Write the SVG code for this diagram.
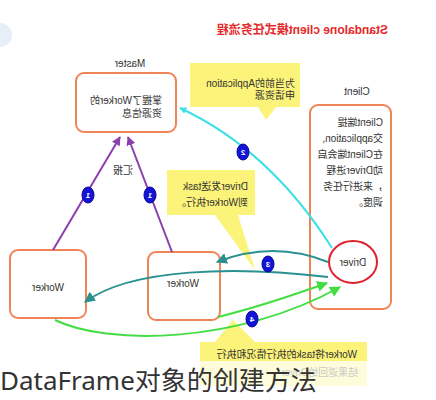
<svg xmlns="http://www.w3.org/2000/svg" width="436" height="400" viewBox="0 0 436 400">
<style>
.t{font-family:"Liberation Sans","Noto Sans CJK SC",sans-serif;font-size:10px;fill:#333}
.box{fill:#fff;stroke:#f08456;stroke-width:2}
.call{fill:#fcf47a;stroke:none}
.num{fill:#1414d8;stroke:#0a0a90;stroke-width:1}
.nt{font-family:"Liberation Sans",sans-serif;font-size:8px;font-weight:bold;fill:#fff;text-anchor:middle}
</style>
<defs>
<marker id="aC" viewBox="0 0 10 10" refX="9" refY="5" markerWidth="7" markerHeight="7" orient="auto" markerUnits="userSpaceOnUse"><path d="M0,0L10,5L0,10z" fill="#3ee0e8"/></marker>
<marker id="aP" viewBox="0 0 10 10" refX="9" refY="5" markerWidth="9" markerHeight="9" orient="auto" markerUnits="userSpaceOnUse"><path d="M0,0L10,5L0,10z" fill="#8a3fb0"/></marker>
<marker id="aT" viewBox="0 0 10 10" refX="9" refY="5" markerWidth="11" markerHeight="11" orient="auto" markerUnits="userSpaceOnUse"><path d="M0,0L10,5L0,10z" fill="#2a9090"/></marker>
<marker id="aG" viewBox="0 0 10 10" refX="9" refY="5" markerWidth="11" markerHeight="11" orient="auto" markerUnits="userSpaceOnUse"><path d="M0,0L10,5L0,10z" fill="#44dd44"/></marker>
</defs>
<rect width="436" height="400" fill="#fff"/>
<circle cx="0" cy="35" r="12" fill="#e6eef8"/>
<g transform="matrix(-1 0 0 1 436 0)">
<text class="t" x="48" y="34" style="font-size:12px;font-weight:bold;fill:#e42a2a">Standalone client模式任务流程</text>
<g id="callout1">
<path class="call" d="M136,63H246V107H178L170,120L160,107H136Z"/>
<text class="t" x="141" y="87">为当前的Application</text>
<text class="t" x="141" y="99">申请资源</text>
</g>
<g id="callout2">
<path class="call" d="M181,170H269V215H221L181,270L198,215H181Z"/>
<text class="t" x="188" y="190">Driver发送task</text>
<text class="t" x="188" y="206">到Worker执行。</text>
</g>
<g id="callout3">
<path class="call" d="M69,342H181L203,320L221,342H236V386H69Z"/>
<text class="t" x="79" y="358">Worker将task的执行情况和执行</text>
<text class="t" x="78" y="376">结果返回给Driver</text>
</g>
<g id="master">
<text class="t" x="306" y="67" text-anchor="middle">Master</text>
<rect class="box" x="260" y="73" width="100" height="59" rx="8"/>
<text class="t" x="274" y="104">掌握了Worker的</text>
<text class="t" x="274" y="117">资源信息</text>
</g>
<g id="client">
<text class="t" x="79" y="95" text-anchor="middle">Client</text>
<rect class="box" x="45" y="105" width="81" height="204" rx="8"/>
<text class="t" x="53" y="126">Client端提</text>
<text class="t" x="53" y="142">交application,</text>
<text class="t" x="53" y="158">在Client端会启</text>
<text class="t" x="53" y="174">动Driver进程</text>
<text class="t" x="53" y="190">，来进行任务</text>
<text class="t" x="53" y="206">调度。</text>
</g>
<g id="driver">
<ellipse cx="83" cy="262" rx="24" ry="21" fill="#fff" stroke="#e0202c" stroke-width="2"/>
<text class="t" x="83" y="266" text-anchor="middle">Driver</text>
</g>
<g id="worker1">
<rect class="box" x="350" y="250" width="76" height="68" rx="8"/>
<text class="t" x="388" y="291" text-anchor="middle">Worker</text>
</g>
<g id="worker2">
<rect class="box" x="216" y="252" width="72" height="68" rx="8"/>
<text class="t" x="253" y="287" text-anchor="middle">Worker</text>
</g>
<g id="connectors" fill="none" stroke-width="2">
<path d="M104,248Q166,150 256,108" stroke="#3ee0e8" marker-end="url(#aC)"/>
<path d="M383,250L316,137" stroke="#8a3fb0" marker-end="url(#aP)"/>
<path d="M264,252L308,137" stroke="#8a3fb0" marker-end="url(#aP)"/>
<path d="M108,262Q163,240 219,262" stroke="#2a9090" marker-end="url(#aT)"/>
<path d="M108,277C200,266 305,268 351,302" stroke="#2a9090" marker-end="url(#aT)"/>
<path d="M218,317Q170,305 109,283" stroke="#44dd44" marker-end="url(#aG)"/>
<path d="M381,320C330,345 200,345 96,287" stroke="#44dd44" marker-end="url(#aG)"/>
<text class="t" x="313" y="174" text-anchor="middle">汇报</text>
<ellipse class="num" cx="348" cy="195" rx="6" ry="8"/>
<text class="nt" x="348" y="198">1</text>
<ellipse class="num" cx="286" cy="195" rx="6" ry="8"/>
<text class="nt" x="286" y="198">1</text>
<ellipse class="num" cx="193" cy="152" rx="6" ry="8"/>
<text class="nt" x="193" y="155">2</text>
<ellipse class="num" cx="168" cy="264" rx="6" ry="8"/>
<text class="nt" x="168" y="267">3</text>
<ellipse class="num" cx="184" cy="319" rx="6" ry="8"/>
<text class="nt" x="184" y="322">4</text>
</g>
</g>
<rect x="0" y="361" width="436" height="39" fill="#fff" opacity="0.72"/>
<text x="0" y="390" style="font-family:'Noto Sans','Noto Sans CJK SC',sans-serif;font-size:26px;fill:#333">DataFrame对象的创建方法</text>
</svg>
